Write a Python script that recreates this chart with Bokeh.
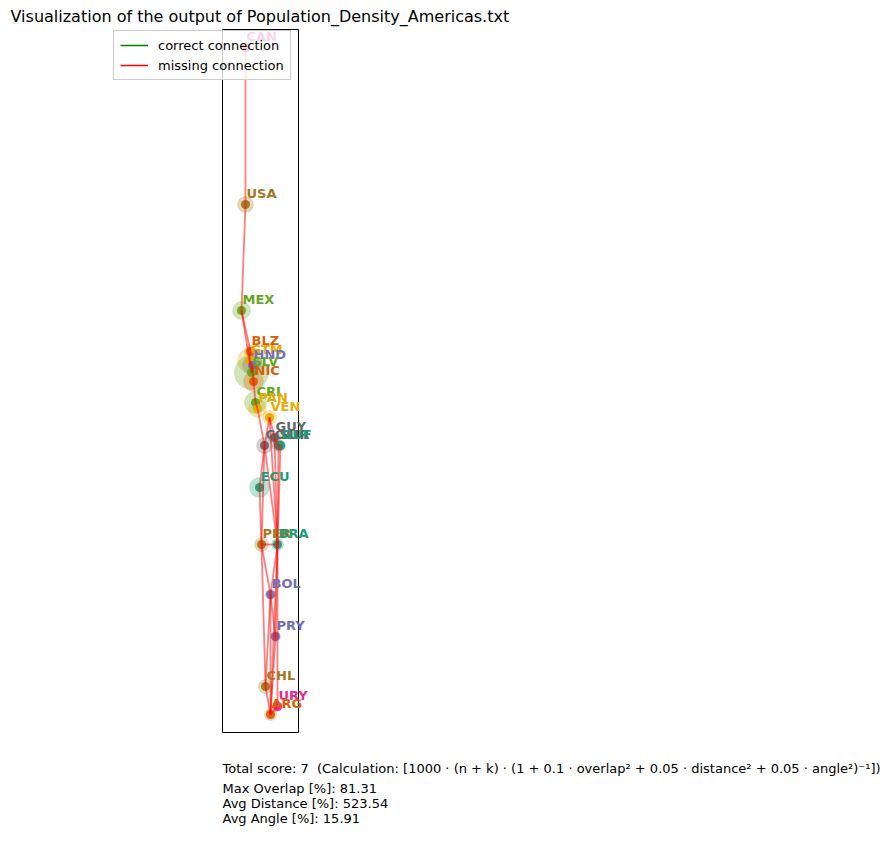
from bokeh.plotting import figure
from bokeh.models import Range1d, Label, Legend, LegendItem, ColumnDataSource, BoxAnnotation
from bokeh.core.properties import value
from bokeh.embed import file_html
from bokeh.resources import INLINE

# Country layout (layout units, origin at lower-left of the box)
codes = ["CAN", "USA", "MEX", "BLZ", "GTM", "HND", "SLV", "NIC", "CRI", "PAN", "VEN",
         "GUY", "COL", "SUR", "GUF", "ECU", "PER", "BRA", "BOL", "PRY", "CHL", "URY", "ARG"]
pos_x = [23, 23, 19, 28, 27, 30, 29, 31, 33, 35, 47,
         52, 42, 56, 58, 37, 39, 55, 48, 53, 43, 55, 48]
pos_y = [685, 528, 422, 381, 372, 367, 360, 351, 330, 324, 315,
         295, 287, 287, 287, 245, 188, 188, 138, 96, 46, 26, 18]
# population-density weight shown as the translucent halo
weight = [8, 16, 18, 12, 24, 20, 34, 20, 22, 18, 14,
          12, 16, 12, 10, 20, 14, 12, 10, 10, 14, 10, 12]
group = [3, 6, 4, 1, 5, 2, 4, 1, 4, 5, 5,
         7, 7, 7, 0, 0, 6, 0, 2, 2, 6, 3, 1]

# neighbouring countries that should be adjacent
edges = [("CAN", "USA"), ("USA", "MEX"), ("MEX", "GTM"), ("MEX", "BLZ"),
         ("GTM", "BLZ"), ("GTM", "HND"), ("GTM", "SLV"), ("HND", "SLV"),
         ("HND", "NIC"), ("NIC", "CRI"), ("CRI", "PAN"), ("PAN", "COL"),
         ("COL", "VEN"), ("COL", "BRA"), ("COL", "PER"), ("COL", "ECU"),
         ("VEN", "GUY"), ("VEN", "BRA"), ("GUY", "SUR"), ("GUY", "BRA"),
         ("SUR", "GUF"), ("SUR", "BRA"), ("GUF", "BRA"), ("ECU", "PER"),
         ("PER", "BRA"), ("PER", "BOL"), ("PER", "CHL"), ("BRA", "BOL"),
         ("BRA", "PRY"), ("BRA", "ARG"), ("BRA", "URY"), ("BOL", "PRY"),
         ("BOL", "ARG"), ("BOL", "CHL"), ("PRY", "ARG"), ("CHL", "ARG"),
         ("ARG", "URY")]

title_text = "Visualization of the output of Population_Density_Americas.txt"
score_lines = [
    "Total score: 7 \u00a0(Calculation: [1000 \u00b7 (n + k) \u00b7 (1 + 0.1 \u00b7 overlap\u00b2 + 0.05 \u00b7 distance\u00b2 + 0.05 \u00b7 angle\u00b2)\u207b\u00b9])",
    "Max Overlap [%]: 81.31",
    "Avg Distance [%]: 523.54",
    "Avg Angle [%]: 15.91",
]

# layout box extent in layout units
BOX_W, BOX_H = 76, 703

palette = ["#1b9e77", "#d95f02", "#7570b3", "#e7298a",
           "#66a61e", "#e6ab02", "#a6761d", "#666666"]
colors = [palette[g] for g in group]
FONT = "DejaVu Sans"
NAN = float("nan")

W, H = 888, 849
p = figure(width=W, height=H, output_backend="svg", toolbar_location=None,
           x_axis_location=None, y_axis_location=None,
           x_range=Range1d(-222, W - 222), y_range=Range1d(-(H - 732), 732),
           min_border=0)
p.grid.visible = False
p.outline_line_color = None
p.background_fill_color = "white"
p.border_fill_color = "white"

# axes box
p.add_layout(BoxAnnotation(left=0, right=BOX_W, bottom=0, top=BOX_H,
                           fill_color=None, fill_alpha=0,
                           line_color="black", line_alpha=1, line_width=1,
                           level="underlay"))

src = ColumnDataSource(dict(x=pos_x, y=pos_y, code=codes, w=weight, c=colors))

# halos and markers
p.scatter("x", "y", source=src, size="w", fill_color="c", fill_alpha=0.3,
          line_color="c", line_alpha=0.15)
p.scatter("x", "y", source=src, size=9, fill_color="c", fill_alpha=0.95,
          line_color=None)

# connections (all of them are missing ones)
idx = {c: i for i, c in enumerate(codes)}
xs = [[pos_x[idx[a]], pos_x[idx[b]]] for a, b in edges]
ys = [[pos_y[idx[a]], pos_y[idx[b]]] for a, b in edges]
p.multi_line(xs, ys, line_color="red", line_alpha=0.5, line_width=1.8)

# legend proxies
correct = p.line([NAN, NAN], [NAN, NAN], line_color="green", line_width=1.5)
missing = p.line([NAN, NAN], [NAN, NAN], line_color="red", line_width=1.5)

# country labels
p.text("x", "y", text="code", source=src, text_color="c",
       text_font=value(FONT), text_font_size="13px",
       text_font_style="bold", x_offset=1, y_offset=-11,
       text_baseline="alphabetic", text_align="left")

legend = Legend(items=[LegendItem(label="correct connection", renderers=[correct]),
                       LegendItem(label="missing connection", renderers=[missing])],
                location=(113, H - 80))
legend.label_text_font = FONT
legend.label_text_font_size = "13px"
legend.label_text_color = "black"
legend.background_fill_color = "white"
legend.background_fill_alpha = 0.8
legend.border_line_color = "#cccccc"
legend.border_line_alpha = 1
legend.glyph_width = 28
legend.glyph_height = 16
legend.label_height = 16
legend.label_standoff = 10
legend.spacing = 4
legend.padding = 6
legend.margin = 0
p.add_layout(legend)

p.add_layout(Label(x=10, y=H - 16, x_units="screen", y_units="screen",
                   text=title_text, text_font=FONT, text_font_size="16px",
                   text_baseline="middle", text_color="black"))

for t, yy in zip(score_lines, [768, 788, 803, 818]):
    p.add_layout(Label(x=222, y=H - yy, x_units="screen", y_units="screen",
                       text=t, text_font=FONT, text_font_size="13px",
                       text_baseline="middle", text_color="black"))

open("out.html", "w").write(file_html(p, INLINE))
